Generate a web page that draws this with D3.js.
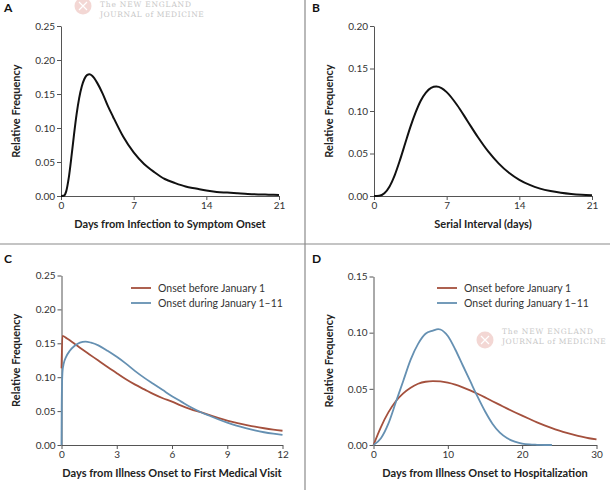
<!DOCTYPE html>
<html><head><meta charset="utf-8">
<script src="https://cdn.jsdelivr.net/npm/d3@7"></script>
<style>
body{margin:0;background:#fff}
svg{display:block}
text{font-family:Lato,"Open Sans",sans-serif}
</style>
</head><body>
<svg id="chart" width="610" height="490"></svg>
<script>
// ---- Panel A: incubation period ----
const incubationDays = [0,0.25,0.5,0.75,1,1.25,1.5,1.75,2,2.25,2.5,2.75,3,3.5,4,4.5,5,6,7,8,9,10,11,12,13,14,15,16,17,18,19,20,21];
const incubationFreq = [0,0.0003,0.0068,0.027,0.057,0.090,0.120,0.144,0.161,0.172,0.1777,0.1789,0.1768,0.166,0.151,0.133,0.117,0.087,0.064,0.047,0.035,0.025,0.019,0.014,0.011,0.008,0.006,0.005,0.004,0.003,0.0023,0.0019,0.0015];
// ---- Panel B: serial interval ----
const serialDays = [0,0.5,1,1.5,2,2.5,3,3.5,4,4.5,5,5.5,6,6.5,7,8,9,10,11,12,13,14,15,16,17,18,19,20,21];
const serialFreq = [0,0.0003,0.0032,0.0112,0.0246,0.0422,0.0617,0.081,0.098,0.112,0.1216,0.1272,0.1287,0.127,0.1222,0.1071,0.0883,0.0694,0.0524,0.0384,0.0273,0.019,0.013,0.0087,0.0058,0.0038,0.0024,0.0015,0.001];
// ---- Panel C: onset to first medical visit ----
const visitDaysBefore = [0,0.05,0.3,0.72,1,1.5,2,2.5,3,3.5,4,4.5,5,5.5,6,6.5,7,7.6,8,8.5,9,9.5,10,10.5,11,11.5,12];
const visitFreqBefore = [0.113,0.161,0.157,0.149,0.1435,0.134,0.1245,0.115,0.106,0.097,0.089,0.082,0.075,0.069,0.064,0.058,0.053,0.048,0.0445,0.040,0.036,0.0328,0.0298,0.027,0.0247,0.0227,0.021];
const visitDaysDuring = [0,0.01,0.03,0.06,0.12,0.25,0.45,0.7,1,1.3,1.6,2,2.5,3,3.5,4,4.5,5,5.5,6,6.5,7,7.6,8,8.5,9,9.5,10,10.5,11,11.5,12];
const visitFreqDuring = [0,0.05,0.09,0.11,0.12,0.13,0.139,0.146,0.151,0.1525,0.151,0.147,0.139,0.130,0.120,0.109,0.099,0.090,0.081,0.072,0.064,0.056,0.048,0.0435,0.038,0.033,0.0285,0.0248,0.0215,0.0188,0.0167,0.015];
// ---- Panel D: onset to hospitalization ----
const hospDaysBefore = [0,1,2,3,4,5,6,7,8,9,10,11,12,13,14,15,16,17,18,19,20,21,22,23,24,25,26,27,28,29,30];
const hospFreqBefore = [0,0.016,0.029,0.039,0.046,0.051,0.0545,0.0563,0.0568,0.0566,0.0555,0.0537,0.0513,0.0486,0.0456,0.0424,0.039,0.0357,0.0324,0.0292,0.0261,0.0231,0.0202,0.0175,0.015,0.0128,0.0108,0.009,0.0074,0.006,0.005];
const hospDaysDuring = [0,1,2,3,4,5,6,7,8,8.7,9,10,11,12,13,14,15,16,17,18,19,20,21,22,23,24];
const hospFreqDuring = [0,0.006,0.019,0.038,0.057,0.076,0.090,0.099,0.1018,0.1032,0.1028,0.097,0.085,0.071,0.057,0.043,0.030,0.019,0.011,0.006,0.003,0.0013,0.0005,0.0002,0,0];

const legendLabels = ["Onset before January 1", "Onset during January 1\u201311"];
const seriesColors = ["#a4503d", "#6590b2"];
const yTitle = "Relative Frequency";

const svg = d3.select("#chart");
svg.append("rect").attr("width",610).attr("height",490).attr("fill","#fff");

function zip(xs, ys){ return xs.map((d,i)=>[d, ys[i]]); }

function panel(o){
  const x = d3.scaleLinear().domain([0,o.xMax]).range([o.x0,o.x1]);
  const y = d3.scaleLinear().domain([0,o.yMax]).range([o.y0,o.y1]);
  const g = svg.append("g");
  const xa = g.append("g").attr("transform",`translate(0,${o.y0})`)
    .call(d3.axisBottom(x).tickValues(o.xTicks).tickSize(4).tickSizeOuter(0).tickPadding(2).tickFormat(d3.format("d")));
  const ya = g.append("g").attr("transform",`translate(${o.x0},0)`)
    .call(d3.axisLeft(y).tickValues(o.yTicks).tickSize(4).tickSizeOuter(0).tickPadding(2).tickFormat(d3.format(".2f")));
  [xa,ya].forEach(a=>{
    a.select(".domain").attr("stroke","#555").attr("stroke-width",1);
    a.selectAll(".tick line").attr("stroke","#555");
    a.selectAll(".tick text").attr("fill","#333").style("font-size","10px").style("font-family","Lato");
  });
  g.append("text").attr("x",o.lx).attr("y",o.ly).text(o.label)
    .style("font-size","12px").style("font-weight","bold").attr("fill","#111");
  g.append("text").attr("x",(o.x0+o.x1)/2).attr("y",o.y0+32).attr("text-anchor","middle")
    .text(o.xTitle).style("font-size","11px").style("font-weight","bold").attr("fill","#222");
  g.append("text").attr("transform",`translate(${o.yt},${(o.y0+o.y1)/2}) rotate(-90)`)
    .attr("text-anchor","middle").text(yTitle)
    .style("font-size","11px").style("font-weight","bold").attr("fill","#222");
  const line = d3.line().x(d=>x(d[0])).y(d=>y(d[1])).curve(d3.curveMonotoneX);
  o.series.forEach(s=>{
    g.append("path").datum(zip(s.xs,s.ys)).attr("d",line).attr("fill","none")
      .attr("stroke",s.color).attr("stroke-width",s.w).attr("stroke-linejoin","round");
  });
  if(o.legend){
    legendLabels.forEach((t,i)=>{
      const ly = o.legY + i*15;
      g.append("line").attr("x1",o.legX).attr("x2",o.legX+20).attr("y1",ly).attr("y2",ly)
        .attr("stroke",seriesColors[i]).attr("stroke-width",1.8);
      g.append("text").attr("x",o.legX+27).attr("y",ly+3.5).text(t)
        .style("font-size","10.5px").attr("fill","#333");
    });
  }
}

function logo(cx, cy, tx, ty){
  const g = svg.append("g").attr("opacity",0.55);
  g.append("circle").attr("cx",cx).attr("cy",cy).attr("r",8.5).attr("fill","#eab7b1");
  g.append("path").attr("d",`M${cx-4},${cy-4}L${cx+4},${cy+4}M${cx+4},${cy-4}L${cx-4},${cy+4}`)
    .attr("stroke","#fff").attr("stroke-width",1.2);
  g.append("text").attr("x",tx).attr("y",ty).text("The NEW ENGLAND")
    .style("font-family","'DejaVu Serif','Liberation Serif',serif").style("font-size","7.5px")
    .style("letter-spacing","0.8px").attr("fill","#999");
  g.append("text").attr("x",tx).attr("y",ty+9.5).text("JOURNAL of MEDICINE")
    .style("font-family","'DejaVu Serif','Liberation Serif',serif").style("font-size","7.5px")
    .style("letter-spacing","0.6px").attr("fill","#999");
}

// dividers
svg.append("line").attr("x1",305).attr("x2",305).attr("y1",0).attr("y2",490).attr("stroke","#8a8a8a").attr("stroke-width",1.2);
svg.append("line").attr("x1",0).attr("x2",610).attr("y1",244).attr("y2",244).attr("stroke","#8a8a8a").attr("stroke-width",1.2);

logo(83, 6, 100, 7);
logo(485, 340, 502, 334);

panel({label:"A", lx:4, ly:12, x0:61, x1:279, y0:196, y1:26, xMax:21, yMax:0.25,
  xTicks:[0,7,14,21], yTicks:[0,0.05,0.10,0.15,0.20,0.25], yt:20,
  xTitle:"Days from Infection to Symptom Onset",
  series:[{xs:incubationDays, ys:incubationFreq, color:"#111", w:2}]});

panel({label:"B", lx:312, ly:12, x0:374, x1:592, y0:196, y1:26, xMax:21, yMax:0.20,
  xTicks:[0,7,14,21], yTicks:[0,0.05,0.10,0.15,0.20], yt:333,
  xTitle:"Serial Interval (days)",
  series:[{xs:serialDays, ys:serialFreq, color:"#111", w:2}]});

panel({label:"C", lx:4, ly:263, x0:61.5, x1:282.5, y0:445, y1:275.5, xMax:12, yMax:0.25,
  xTicks:[0,3,6,9,12], yTicks:[0,0.05,0.10,0.15,0.20,0.25], yt:20,
  xTitle:"Days from Illness Onset to First Medical Visit",
  series:[{xs:visitDaysBefore, ys:visitFreqBefore, color:seriesColors[0], w:1.8},
          {xs:visitDaysDuring, ys:visitFreqDuring, color:seriesColors[1], w:1.8}],
  legend:true, legX:131, legY:288});

panel({label:"D", lx:312, ly:263, x0:373.5, x1:596.5, y0:445, y1:276.5, xMax:30, yMax:0.15,
  xTicks:[0,10,20,30], yTicks:[0,0.05,0.10,0.15], yt:333,
  xTitle:"Days from Illness Onset to Hospitalization",
  series:[{xs:hospDaysBefore, ys:hospFreqBefore, color:seriesColors[0], w:1.8},
          {xs:hospDaysDuring, ys:hospFreqDuring, color:seriesColors[1], w:1.8}],
  legend:true, legX:437, legY:288});
</script>
</body></html>
